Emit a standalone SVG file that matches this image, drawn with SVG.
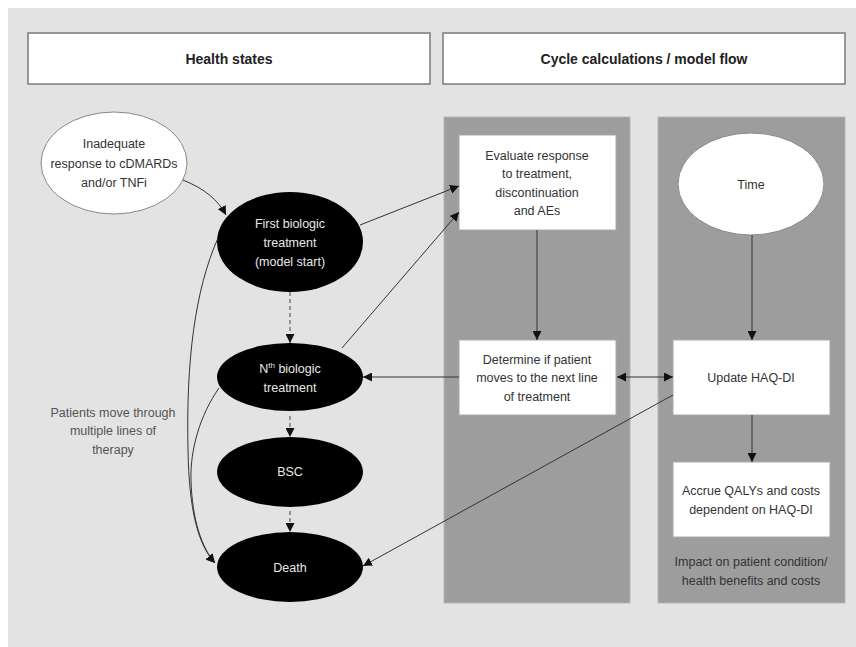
<svg xmlns="http://www.w3.org/2000/svg" width="856" height="647" viewBox="0 0 856 647">
<defs>
<marker id="ah" markerUnits="userSpaceOnUse" markerWidth="9" markerHeight="9" viewBox="0 0 10 10" refX="10" refY="5" orient="auto-start-reverse">
<path d="M0,0 L10,5 L0,10 z" fill="#111"/>
</marker>
</defs>
<style>
text{font-family:"Liberation Sans",Arial,sans-serif;font-size:12.5px;text-anchor:middle}
.hd{font-weight:bold;font-size:14px;fill:#222}
.dk{fill:#333}
.wt{fill:#e8e8e8}
.box{fill:#fff;stroke:#aaa;stroke-width:1}
.panel{fill:#9d9d9d;stroke:#b5b5b5;stroke-width:1}
.state{fill:#000}
.hdr{fill:#fff;stroke:#7a7a7a;stroke-width:1.5}
.c{fill:none;stroke:#333;stroke-width:1;marker-end:url(#ah)}
.d{fill:none;stroke:#444;stroke-width:1;stroke-dasharray:4 3;marker-end:url(#ah)}
.g{fill:#555}
</style>
<rect x="8" y="8" width="848" height="639" fill="#e3e3e3"/>
<g id="header-health"><rect class="hdr" x="28" y="33" width="402" height="51"/><text class="hd" x="229" y="64">Health states</text></g>
<g id="header-cycle"><rect class="hdr" x="443" y="33" width="402" height="51"/><text class="hd" x="644" y="64">Cycle calculations / model flow</text></g>
<g id="panel-left"><rect class="panel" x="444" y="117" width="186" height="486"/></g>
<g id="panel-right"><rect class="panel" x="658" y="117" width="187" height="486"/>
<text class="dk" x="751" y="566">Impact on patient condition/</text><text class="dk" x="751" y="585">health benefits and costs</text></g>
<g id="inadequate"><ellipse cx="114" cy="163" rx="73" ry="51" fill="#fff" stroke="#888"/>
<text class="dk" x="114" y="148">Inadequate</text><text class="dk" x="114" y="168">response to cDMARDs</text><text class="dk" x="114" y="187">and/or TNFi</text></g>
<g id="first"><ellipse class="state" cx="290" cy="242" rx="73" ry="50"/>
<text class="wt" x="290" y="228">First biologic</text><text class="wt" x="290" y="247">treatment</text><text class="wt" x="290" y="266">(model start)</text></g>
<g id="nth"><ellipse class="state" cx="290" cy="377" rx="73" ry="34"/>
<text class="wt" x="290" y="373">N<tspan font-size="8" dy="-5">th</tspan><tspan dy="5"> biologic</tspan></text><text class="wt" x="290" y="392">treatment</text></g>
<g id="bsc"><ellipse class="state" cx="290" cy="472" rx="73" ry="35"/><text class="wt" x="290" y="476">BSC</text></g>
<g id="death"><ellipse class="state" cx="290" cy="567" rx="73" ry="35"/><text class="wt" x="290" y="572">Death</text></g>
<g id="note"><text class="g" x="113" y="417">Patients move through</text><text class="g" x="113" y="435">multiple lines of</text><text class="g" x="113" y="454">therapy</text></g>
<g id="evaluate"><rect class="box" x="459" y="135" width="157" height="95"/>
<text class="dk" x="537" y="160">Evaluate response</text><text class="dk" x="537" y="178">to treatment,</text><text class="dk" x="537" y="197">discontinuation</text><text class="dk" x="537" y="215">and AEs</text></g>
<g id="determine"><rect class="box" x="459" y="340" width="157" height="75"/>
<text class="dk" x="537" y="364">Determine if patient</text><text class="dk" x="537" y="382">moves to the next line</text><text class="dk" x="537" y="401">of treatment</text></g>
<g id="time"><ellipse cx="751" cy="184" rx="73" ry="51" fill="#fff" stroke="#888"/><text class="dk" x="751" y="189">Time</text></g>
<g id="update"><rect class="box" x="673" y="340" width="157" height="75"/><text class="dk" x="751" y="382">Update HAQ-DI</text></g>
<g id="accrue"><rect class="box" x="673" y="462" width="157" height="75"/>
<text class="dk" x="751" y="495">Accrue QALYs and costs</text><text class="dk" x="751" y="514">dependent on HAQ-DI</text></g>
<g id="connectors">
<path class="c" d="M183 180 C205 189 218 200 226 215"/>
<path class="d" d="M290 292 L290 343"/>
<path class="d" d="M290 416 L290 437"/>
<path class="d" d="M290 511 L290 532"/>
<path class="c" d="M218 238 C195 290 186 360 188 450 C189 510 198 545 215 563"/>
<path class="c" d="M219 388 C200 415 190 450 191 480 C192 520 202 548 215 563"/>
<path class="c" d="M360 225 L459 186"/>
<path class="c" d="M342 348 L459 212"/>
<path class="c" d="M537 230 L537 340"/>
<path class="c" d="M752 235 L752 340"/>
<path class="c" d="M752 415 L752 462"/>
<path class="c" d="M459 377 L363 377"/>
<path class="c" style="marker-start:url(#ah)" d="M617 377 L673 377"/>
<path class="c" d="M673 395 L363 566"/>
</g>
</svg>
